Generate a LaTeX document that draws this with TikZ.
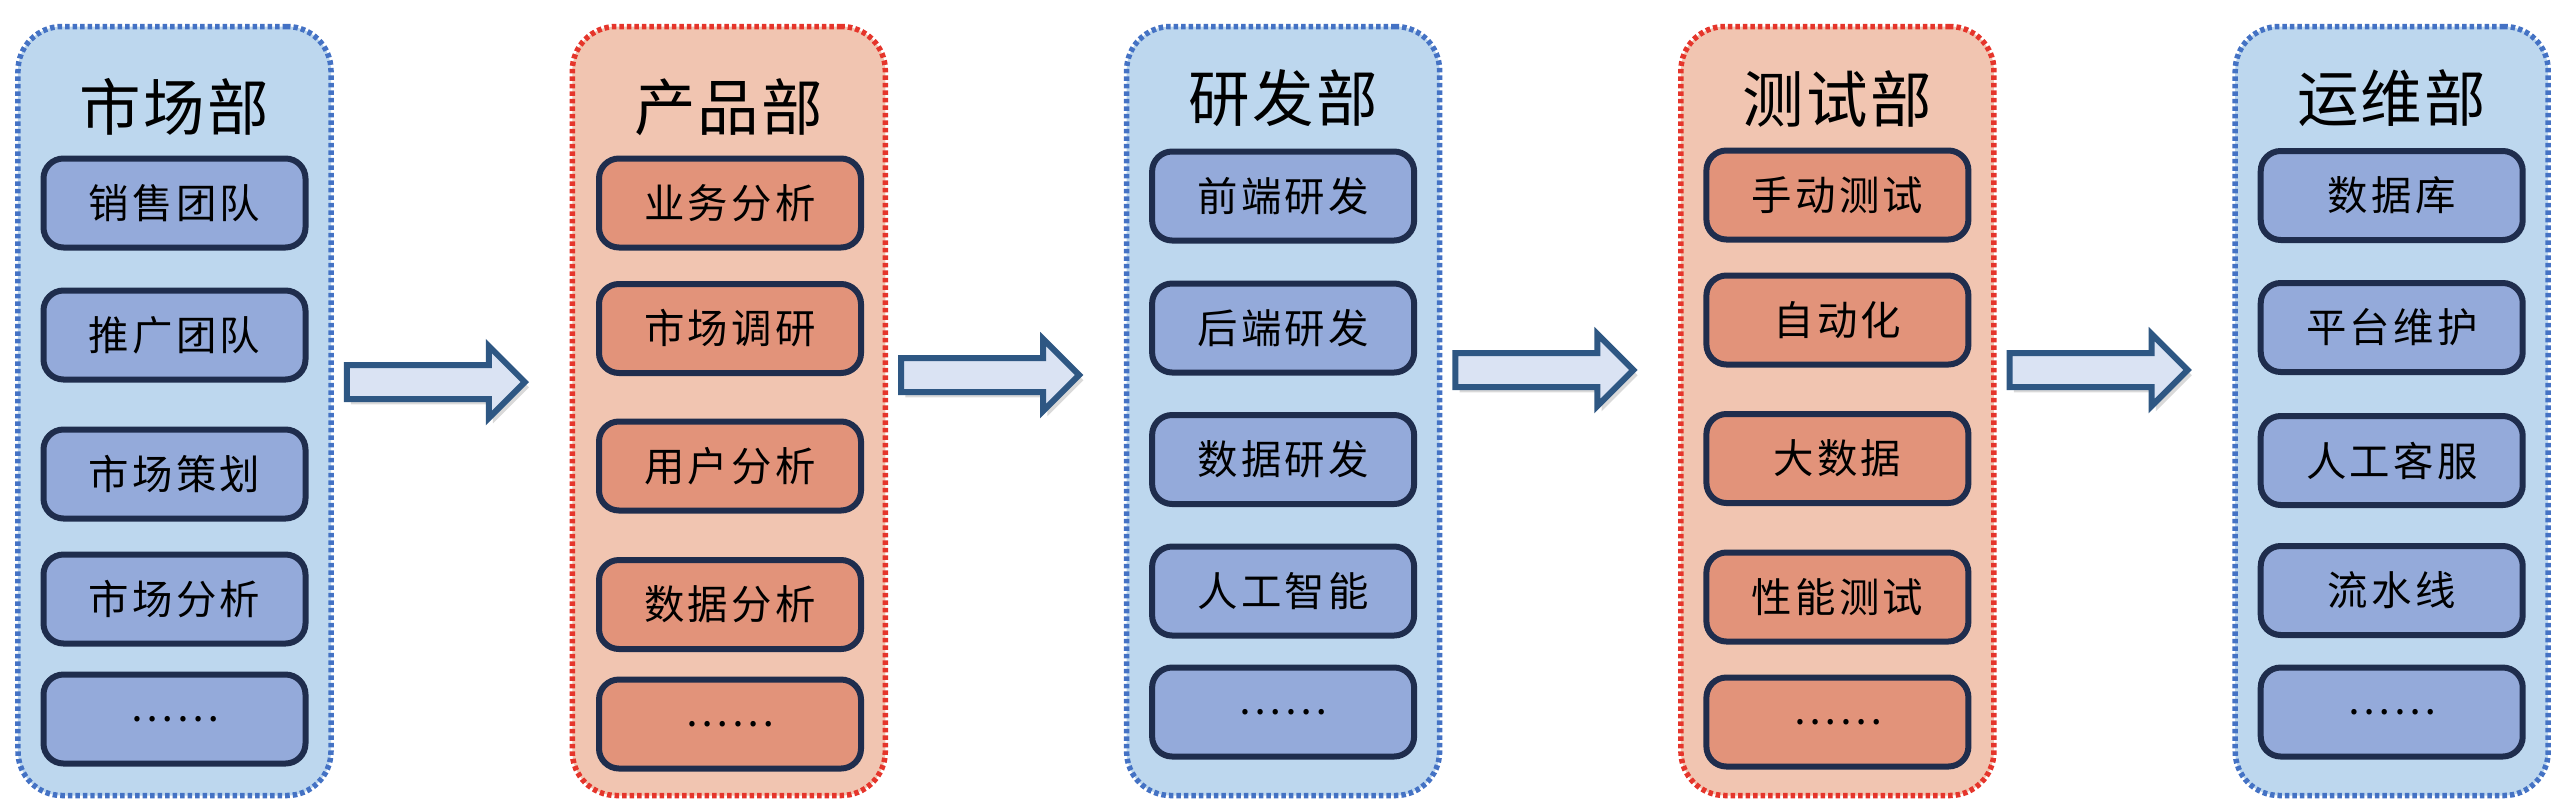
\documentclass[tikz,border=0pt]{standalone}
\usepackage{fontspec}
\usepackage{tikz}
\usetikzlibrary{calc,shadows}
\newfontfamily\kai{Noto Sans CJK SC}[LetterSpace=8]
\newfontfamily\kaititle{Noto Sans CJK SC}[LetterSpace=4]

\definecolor{bluefill}{HTML}{BDD7EE}
\definecolor{blueline}{HTML}{4472C4}
\definecolor{blueitem}{HTML}{94AADA}
\definecolor{redfill}{HTML}{F1C5B1}
\definecolor{redline}{HTML}{E5352B}
\definecolor{reditem}{HTML}{E2937A}
\definecolor{navy}{HTML}{1F2D4D}
\definecolor{arrowfill}{HTML}{DAE3F3}
\definecolor{arrowline}{HTML}{2E5783}

\tikzset{
  dept/.style={rounded corners=0.44cm, line width=0.055cm,
    dash pattern=on 0.045cm off 0.03cm, minimum width=3.13cm, minimum height=7.69cm},
  bdept/.style={dept, draw=blueline, fill=bluefill},
  rdept/.style={dept, draw=redline, fill=redfill},
  title/.style={font=\kaititle\fontsize{17.5}{20}\selectfont},
  item/.style={draw=navy, line width=0.06cm, rounded corners=0.2cm,
    minimum width=2.62cm, minimum height=0.89cm, inner sep=0pt,
    font=\kai\fontsize{11.5}{13}\selectfont},
  bitem/.style={item, fill=blueitem},
  ritem/.style={item, fill=reditem},
  bigarrow/.style={draw=arrowline, fill=arrowfill, line width=0.06cm,
    drop shadow={opacity=0.3, shadow xshift=1.2pt, shadow yshift=-1.5pt}}
}

\begin{document}
\begin{tikzpicture}
\useasboundingbox (0,0) rectangle (25.76,8.10);
% departments
\node[bdept] (d1) at (1.745,3.99) {};
\node[rdept] (d2) at (7.288,3.99) {};
\node[bdept] (d3) at (12.831,3.99) {};
\node[rdept] (d4) at (18.374,3.99) {};
\node[bdept] (d5) at (23.917,3.99) {};
\node[title] (t1) at (1.745,7.03) {市场部};
\node[title] (t2) at (7.288,7.03) {产品部};
\node[title] (t3) at (12.831,7.12) {研发部};
\node[title] (t4) at (18.374,7.11) {测试部};
\node[title] (t5) at (23.917,7.12) {运维部};
% teams
\foreach \y/\txt [count=\k] in {6.07/销售团队,4.75/推广团队,3.36/市场策划,2.11/市场分析,0.91/……}
    \node[bitem] (d1-\k) at (1.745,\y) {\txt};
\foreach \y/\txt [count=\k] in {6.07/业务分析,4.815/市场调研,3.44/用户分析,2.055/数据分析,0.86/……}
    \node[ritem] (d2-\k) at (7.30,\y) {\txt};
\foreach \y/\txt [count=\k] in {6.14/前端研发,4.82/后端研发,3.505/数据研发,2.19/人工智能,0.98/……}
    \node[bitem] (d3-\k) at (12.831,\y) {\txt};
\foreach \y/\txt [count=\k] in {6.15/手动测试,4.90/自动化,3.515/大数据,2.13/性能测试,0.88/……}
    \node[ritem] (d4-\k) at (18.374,\y) {\txt};
\foreach \y/\txt [count=\k] in {6.145/数据库,4.825/平台维护,3.495/人工客服,2.195/流水线,0.98/……}
    \node[bitem] (d5-\k) at (23.917,\y) {\txt};
% flow arrows
\foreach \i/\dy in {1/0.29,2/0.36,3/0.41,4/0.41}
    \draw[bigarrow] ($(d\i.east)+(0.13,\dy+0.17)$) -- ++(1.42,0) -- ++(0,0.19)
        -- ++(0.36,-0.36) -- ++(-0.36,-0.36) -- ++(0,0.19) -- ++(-1.42,0) -- cycle;
\end{tikzpicture}
\end{document}
